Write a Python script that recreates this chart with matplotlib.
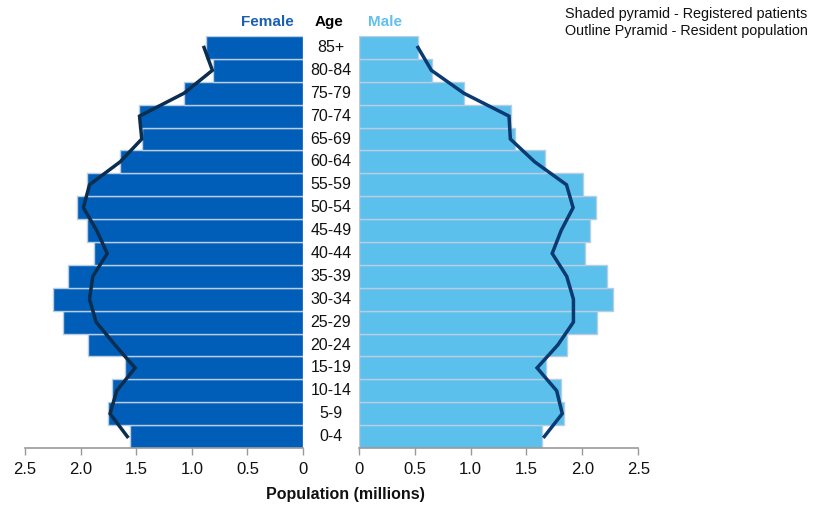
import matplotlib
matplotlib.use("Agg")
import matplotlib.pyplot as plt
import matplotlib.transforms as mtransforms
import numpy as np

ages = ["0-4", "5-9", "10-14", "15-19", "20-24", "25-29", "30-34", "35-39", "40-44",
        "45-49", "50-54", "55-59", "60-64", "65-69", "70-74", "75-79", "80-84", "85+"]

female_registered = [1.56, 1.75, 1.72, 1.60, 1.93, 2.16, 2.25, 2.11, 1.88,
                     1.94, 2.03, 1.94, 1.645, 1.45, 1.475, 1.07, 0.81, 0.875]
male_registered = [1.64, 1.837, 1.81, 1.673, 1.864, 2.13, 2.276, 2.22, 2.025,
                   2.07, 2.125, 2.01, 1.67, 1.40, 1.362, 0.94, 0.654, 0.53]

female_resident = [1.58, 1.735, 1.675, 1.51, 1.69, 1.86, 1.92, 1.89, 1.76,
                   1.855, 1.975, 1.92, 1.645, 1.45, 1.47, 1.07, 0.815, 0.89]
male_resident = [1.66, 1.82, 1.77, 1.595, 1.78, 1.92, 1.92, 1.86, 1.73,
                 1.81, 1.917, 1.858, 1.574, 1.356, 1.344, 0.94, 0.65, 0.53]

ticks = [0, 0.5, 1.0, 1.5, 2.0, 2.5]
tick_labels = ["0", "0.5", "1.0", "1.5", "2.0", "2.5"]

W, H = 819, 531
fig = plt.figure(figsize=(W / 100, H / 100), dpi=100)
fig.patch.set_facecolor("white")

narrow = ["Liberation Sans Narrow", "Liberation Sans", "DejaVu Sans"]
sans = ["Liberation Sans", "DejaVu Sans"]

FEM = "#005EB8"
MAL = "#5BC0EB"
LINE_F = "#0b2d4f"
LINE_M = "#0a3a72"
EDGE = "#b8cde2"

top_px, bot_px = 36, 448
axL = fig.add_axes([25 / W, (H - bot_px) / H, (303 - 25) / W, (bot_px - top_px) / H])
axR = fig.add_axes([358.7 / W, (H - bot_px) / H, (638.3 - 358.7) / W, (bot_px - top_px) / H])

y = np.arange(len(ages))

axL.barh(y, female_registered, height=1.0, color=FEM, edgecolor=EDGE, linewidth=1.0)
axL.plot(female_resident, y, color=LINE_F, lw=2.5, solid_joinstyle="miter")
axR.barh(y, male_registered, height=1.0, color=MAL, edgecolor=EDGE, linewidth=1.0)
axR.plot(male_resident, y, color=LINE_M, lw=2.5, solid_joinstyle="miter")

axL.set_xlim(2.5, 0)
axR.set_xlim(0, 2.5)
for ax in (axL, axR):
    ax.set_ylim(-0.5, len(ages) - 0.5)
    ax.set_yticks([])
    for s in ("top", "right", "left"):
        ax.spines[s].set_visible(False)
    ax.spines["bottom"].set_color("#999999")
    ax.spines["bottom"].set_linewidth(1.2)
    ax.set_xticks(ticks)
    ax.set_xticklabels(tick_labels, fontfamily=narrow, fontsize=12, color="#111111")
    ax.tick_params(axis="x", length=5, width=1, color="#999999", pad=5)
    ax.patch.set_alpha(0)

trans = mtransforms.blended_transform_factory(fig.transFigure, axL.transData)
for i, a in enumerate(ages):
    fig.text(331 / W, i, a, transform=trans, ha="center", va="center",
             fontsize=11.5, fontfamily=sans, color="#111111")

fig.text(294 / W, 1 - 22 / H, "Female", ha="right", va="center", fontsize=11,
         fontweight="bold", color="#1a5fb4", fontfamily=sans)
fig.text(329 / W, 1 - 22 / H, "Age", ha="center", va="center", fontsize=11,
         fontweight="bold", color="#000000", fontfamily=sans)
fig.text(368 / W, 1 - 22 / H, "Male", ha="left", va="center", fontsize=11,
         fontweight="bold", color="#62c0ea", fontfamily=sans)

fig.text(345 / W, 1 - 494 / H, "Population (millions)", ha="center", va="center",
         fontsize=11.5, fontweight="bold", color="#111111", fontfamily=narrow)

fig.text(565 / W, 1 - 14 / H, "Shaded pyramid - Registered patients", ha="left",
         va="center", fontsize=10.35, color="#111111", fontfamily=sans)
fig.text(565 / W, 1 - 31 / H, "Outline Pyramid - Resident population", ha="left",
         va="center", fontsize=10.35, color="#111111", fontfamily=sans)

fig.savefig("out.png", dpi=100, facecolor="white")
